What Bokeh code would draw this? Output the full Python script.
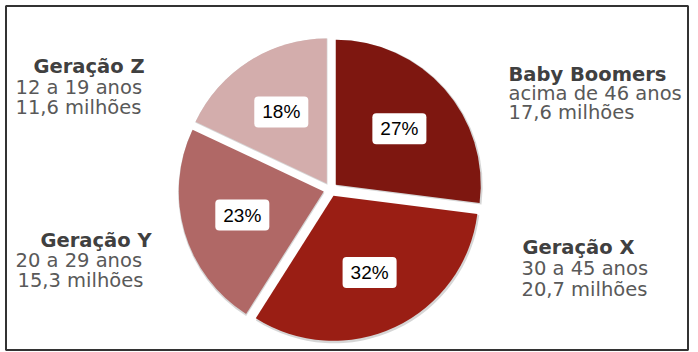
import math
from bokeh.plotting import figure
from bokeh.models import Range1d, BoxAnnotation, ColumnDataSource
from bokeh.core.properties import value
from bokeh.embed import file_html
from bokeh.resources import INLINE

# ---------------- data ----------------
groups = ["Baby Boomers", "Geração X", "Geração Y", "Geração Z"]
shares = [27, 32, 23, 18]
ages = ["acima de 46 anos", "30 a 45 anos", "20 a 29 anos", "12 a 19 anos"]
populations = ["17,6 milhões", "20,7 milhões", "15,3 milhões", "11,6 milhões"]
colors = ["#7e1710", "#9a1e14", "#b06866", "#d3adac"]

# ---------------- layout ----------------
W, H = 698, 352
CX, CY = 330, 189          # pie centre (screen px)
R = 145
EXPLODE = 7
LABEL_FRAC = 0.585
SHIFT = -8                 # baseline correction

# text block positions (screen px): title (x, baseline), lines (x, baseline)
title_pos = [(508, 82), (522, 255), (40, 248), (33, 74)]
line1_pos = [(508, 101), (521, 276), (15, 268), (15, 95)]
line2_pos = [(508, 120), (521, 297), (17, 288), (15, 115)]


def Y(sy):
    return H - sy


p = figure(width=W, height=H, x_range=Range1d(0, W), y_range=Range1d(0, H),
           toolbar_location=None, output_backend="svg", min_border=0,
           x_axis_location=None, y_axis_location=None)
p.grid.visible = False
p.outline_line_color = None
p.background_fill_color = "white"
p.border_fill_color = "white"

total = float(sum(shares))
xs, ys, starts, ends, lx, ly = [], [], [], [], [], []
cum = 0.0
for v in shares:
    a0 = math.pi / 2 - 2 * math.pi * cum / total
    a1 = math.pi / 2 - 2 * math.pi * (cum + v) / total
    mid = (a0 + a1) / 2
    x = CX + EXPLODE * math.cos(mid)
    y = Y(CY) + EXPLODE * math.sin(mid)
    xs.append(x); ys.append(y); starts.append(a0); ends.append(a1)
    lx.append(x + LABEL_FRAC * R * math.cos(mid))
    ly.append(y + LABEL_FRAC * R * math.sin(mid))
    cum += v

src = ColumnDataSource(dict(x=xs, y=ys, start=starts, end=ends, color=colors,
                            sx=[v + 0.7 for v in xs], sy=[v - 1.2 for v in ys],
                            lx=lx, ly=ly, pct=[f"{v}%" for v in shares]))

# soft shadow
p.wedge(x="sx", y="sy", radius=R + 1.2, start_angle="start", end_angle="end",
        direction="clock", fill_color="#c4c4c4", fill_alpha=0.7, line_color=None,
        source=src)
# slices
p.wedge(x="x", y="y", radius=R, start_angle="start", end_angle="end",
        direction="clock", fill_color="color", line_color=None, source=src)

# percentage labels
p.text(x="lx", y="ly", text="pct", source=src, text_align="center",
       text_baseline="middle", text_font=value("Liberation Sans"),
       text_font_size="19px", text_color="black",
       background_fill_color="white", border_radius=4, padding=(8, 5))

# category text blocks
for i in range(len(groups)):
    tx, tb = title_pos[i]
    p.text(x=[tx], y=[Y(tb + SHIFT)], text=[groups[i]], text_align="left",
           text_baseline="alphabetic", text_font=value("DejaVu Sans"),
           text_font_size="19.5px", text_font_style="bold", text_color="#404040")
    for (lxp, lb), t in ((line1_pos[i], ages[i]), (line2_pos[i], populations[i])):
        p.text(x=[lxp], y=[Y(lb + SHIFT)], text=[t], text_align="left",
               text_baseline="alphabetic", text_font=value("DejaVu Sans"),
               text_font_size="19.5px", text_color="#595959")

# frame
p.add_layout(BoxAnnotation(left=5.5, right=687.5, bottom=Y(349.5), top=Y(5.5),
                           fill_color=None, fill_alpha=0, line_color="#333333",
                           line_alpha=1.0, line_width=2))

open("out.html", "w").write(file_html(p, INLINE))
